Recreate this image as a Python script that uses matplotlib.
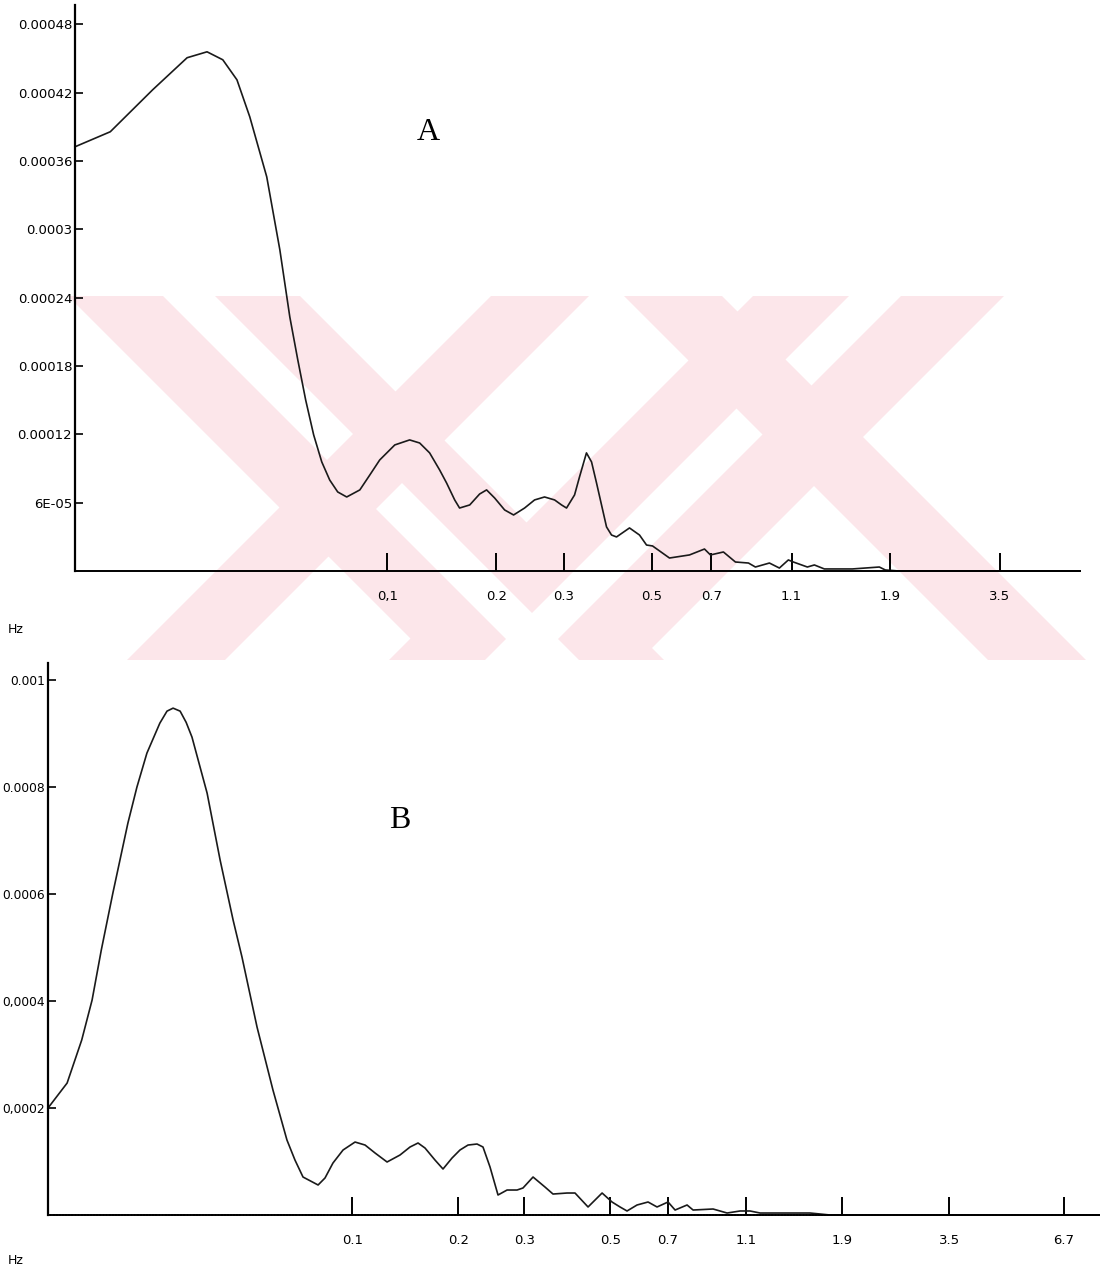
import numpy as np
import matplotlib.pyplot as plt
from matplotlib.patches import Polygon

# frequency axis of the original is a warped log: log10(f + C)
C = 0.022


def fwd(x):
    return np.log10(np.clip(x, 0, None) + C)


def inv(y):
    return 10 ** y - C


# Spectrum A (Hz, power)
freq_a = [0.0, 0.0047, 0.0117, 0.0187, 0.0234, 0.0275, 0.0315, 0.0354, 0.0410, 0.0457,
          0.0495, 0.0527, 0.0560, 0.0595, 0.0632, 0.0670, 0.0710, 0.0757, 0.0830, 0.0889,
          0.0951, 0.1052, 0.1160, 0.1238, 0.1320, 0.1407, 0.1470, 0.1547, 0.1595, 0.1699,
          0.1806, 0.1885, 0.1980, 0.2104, 0.2221, 0.2373, 0.2519, 0.2673, 0.2837, 0.2956,
          0.3044, 0.3191, 0.3285, 0.3421, 0.3524, 0.3628, 0.3735, 0.3845, 0.3958, 0.4074,
          0.4391, 0.4651, 0.4843, 0.5012, 0.5522, 0.6189, 0.6738, 0.6970, 0.7500, 0.8025,
          0.8637, 0.8981, 0.9716, 1.0275, 1.0804, 1.1112, 1.2016, 1.2496, 1.3211, 1.5441,
          1.7940, 1.8548, 2.004, 3.5, 5.44]
psd_a = [3.725e-4, 3.857e-4, 4.226e-4, 4.507e-4, 4.559e-4, 4.489e-4, 4.313e-4, 3.988e-4, 3.461e-4, 2.820e-4,
         2.231e-4, 1.854e-4, 1.502e-4, 1.195e-4, 9.58e-5, 7.99e-5, 6.94e-5, 6.50e-5, 7.12e-5, 8.43e-5,
         9.75e-5, 1.107e-4, 1.151e-4, 1.124e-4, 1.037e-4, 8.87e-5, 7.73e-5, 6.24e-5, 5.53e-5, 5.80e-5,
         6.76e-5, 7.12e-5, 6.41e-5, 5.36e-5, 4.92e-5, 5.53e-5, 6.24e-5, 6.50e-5, 6.24e-5, 5.80e-5,
         5.53e-5, 6.68e-5, 8.26e-5, 1.037e-4, 9.58e-5, 7.73e-5, 5.80e-5, 3.87e-5, 3.16e-5, 2.99e-5,
         3.78e-5, 3.16e-5, 2.28e-5, 2.20e-5, 1.14e-5, 1.41e-5, 1.93e-5, 1.41e-5, 1.67e-5, 7.9e-6,
         7.0e-6, 3.5e-6, 7.0e-6, 2.6e-6, 9.7e-6, 7.9e-6, 3.5e-6, 5.3e-6, 1.8e-6, 1.8e-6,
         3.5e-6, 9e-7, 0, 0, 0]

# Spectrum B
freq_b = [0.0, 0.0025, 0.0046, 0.0062, 0.0077, 0.0097, 0.0125, 0.0143, 0.0164, 0.0193,
          0.0210, 0.0225, 0.0243, 0.0259, 0.0275, 0.0319, 0.0360, 0.0404, 0.0436, 0.0494,
          0.0561, 0.0625, 0.0664, 0.0705, 0.0787, 0.0827, 0.0875, 0.0939, 0.1020, 0.1092,
          0.1168, 0.1265, 0.1377, 0.1470, 0.1548, 0.1619, 0.1725, 0.1815, 0.1921, 0.2019,
          0.2123, 0.2245, 0.2329, 0.2432, 0.2554, 0.2699, 0.2868, 0.2973, 0.3159, 0.3394,
          0.3561, 0.3873, 0.4060, 0.4386, 0.4765, 0.5052, 0.5295, 0.5517, 0.5849, 0.6238,
          0.6573, 0.7008, 0.7300, 0.7825, 0.8102, 0.9094, 0.9859, 1.0624, 1.125, 1.1916,
          1.5865, 1.778, 8.2]
psd_b = [2.0e-4, 2.467e-4, 3.271e-4, 4.018e-4, 4.953e-4, 6.018e-4, 7.326e-4, 8.0e-4, 8.635e-4, 9.195e-4,
         9.42e-4, 9.476e-4, 9.42e-4, 9.21e-4, 8.934e-4, 7.887e-4, 6.635e-4, 5.514e-4, 4.822e-4, 3.514e-4,
         2.336e-4, 1.402e-4, 1.028e-4, 7.10e-5, 5.61e-5, 6.92e-5, 9.72e-5, 1.215e-4, 1.364e-4, 1.308e-4,
         1.159e-4, 9.91e-5, 1.121e-4, 1.271e-4, 1.346e-4, 1.252e-4, 1.028e-4, 8.60e-5, 1.065e-4, 1.215e-4,
         1.308e-4, 1.327e-4, 1.271e-4, 8.97e-5, 3.74e-5, 4.67e-5, 4.67e-5, 5.05e-5, 7.10e-5, 5.23e-5,
         3.92e-5, 4.11e-5, 4.11e-5, 1.50e-5, 4.11e-5, 2.43e-5, 1.50e-5, 7.5e-6, 1.87e-5, 2.43e-5,
         1.50e-5, 2.43e-5, 9.3e-6, 1.87e-5, 9.3e-6, 1.12e-5, 3.7e-6, 7.5e-6, 7.5e-6, 3.7e-6,
         3.7e-6, 0, 0]

xticks_a = [0.1, 0.2, 0.3, 0.5, 0.7, 1.1, 1.9, 3.5]
xlabels_a = ["0,1", "0.2", "0.3", "0.5", "0.7", "1.1", "1.9", "3.5"]
yticks_a = [6e-5, 1.2e-4, 1.8e-4, 2.4e-4, 3.0e-4, 3.6e-4, 4.2e-4, 4.8e-4]
ylabels_a = ["6E-05", "0.00012", "0.00018", "0.00024", "0.0003", "0.00036", "0.00042", "0.00048"]

xticks_b = [0.1, 0.2, 0.3, 0.5, 0.7, 1.1, 1.9, 3.5, 6.7]
xlabels_b = ["0.1", "0.2", "0.3", "0.5", "0.7", "1.1", "1.9", "3.5", "6.7"]
yticks_b = [2e-4, 4e-4, 6e-4, 8e-4, 1e-3]
ylabels_b = ["0,0002", "0,0004", "0.0006", "0.0008", "0.001"]

W, H = 1100, 1273
fig = plt.figure(figsize=(W / 100, H / 100), dpi=100)


def px(points):
    # image pixel corners -> figure fraction
    return [(x / W, 1 - y / H) for x, y in points]


def add_poly(points, color, z):
    fig.patches.append(Polygon(px(points), closed=True, fc=color, ec="none",
                               transform=fig.transFigure, zorder=z))


# pale red "XX" watermark of the scanned page, behind the plots
pink = "#fce6ea"
TOP, BOT = 296, 660
for s1, s2 in [(-228, 4), (328, 426)]:          # "\" strokes
    add_poly([(s1 + TOP, TOP), (s2 + TOP, TOP), (s2 + BOT, BOT), (s1 + BOT, BOT)], pink, 0)
for t1, t2 in [(787, 885), (1049, 1300)]:       # "/" strokes
    add_poly([(t1 - TOP, TOP), (t2 - TOP, TOP), (t2 - BOT, BOT), (t1 - BOT, BOT)], pink, 0)
for cut in [
    [(163, 296), (215, 296), (353, 434), (327, 460)],
    [(376, 509), (402, 483), (579, 660), (527, 660)],
    [(849, 296), (901, 296), (811.5, 385.5), (785.5, 359.5)],
    [(736.5, 408.5), (762.5, 434.5), (537, 660), (485, 660)],
]:
    add_poly(cut, "white", 0.5)

ax_a = fig.add_axes([75 / W, 1 - 571 / H, 1005 / W, 566 / H])
ax_b = fig.add_axes([48 / W, 1 - 1215 / H, 1052 / W, 552 / H])

panels = [
    (ax_a, freq_a, psd_a, xticks_a, xlabels_a, yticks_a, ylabels_a, (0, 5.44), (0, 4.97e-4), 9.5),
    (ax_b, freq_b, psd_b, xticks_b, xlabels_b, yticks_b, ylabels_b, (0, 8.21), (0, 1.032e-3), 8.8),
]
for ax, f, p, xt, xl, yt, yl, xlim, ylim, fs in panels:
    ax.set_zorder(2)
    ax.set_xscale("function", functions=(fwd, inv))
    ax.plot(f, p, color="#1a1a1a", lw=1.2, clip_on=False, solid_joinstyle="round")
    ax.set_xlim(*xlim)
    ax.set_ylim(*ylim)
    ax.set_xticks(xt, xl)
    ax.set_yticks(yt, yl)
    ax.minorticks_off()
    ax.spines[["top", "right"]].set_visible(False)
    ax.spines["left"].set_linewidth(1.6)
    ax.spines["bottom"].set_linewidth(1.4)
    ax.patch.set_alpha(0)
    ax.tick_params(axis="x", direction="in", length=13, width=1.4, pad=14, labelsize=9.5)
    ax.tick_params(axis="y", direction="in", length=6, width=1.2, pad=2, labelsize=fs)

ax_b.spines["bottom"].set_linestyle((0, (1, 0.6)))

fig.text(8 / W, 1 - 630 / H, "Hz", fontsize=9, va="center")
fig.text(8 / W, 1 - 1261 / H, "Hz", fontsize=9, va="center")
fig.text(428 / W, 1 - 133 / H, "A", family="Liberation Serif", fontsize=23, ha="center", va="center")
fig.text(400 / W, 1 - 820 / H, "B", family="Liberation Serif", fontsize=23, ha="center", va="center")

fig.savefig("out.png", dpi=100)
